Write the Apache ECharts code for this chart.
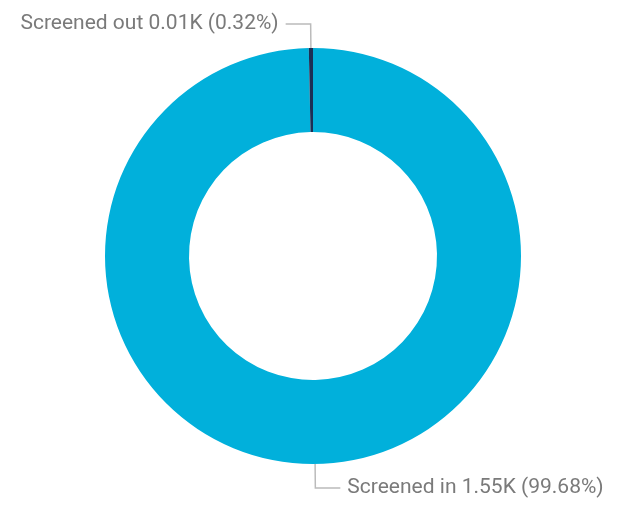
<!DOCTYPE html>
<html>
<head>
<meta charset="utf-8">
<script src="https://cdn.jsdelivr.net/npm/echarts@6/dist/echarts.min.js"></script>
<style>
  html, body { margin: 0; padding: 0; background: #fff; }
  #chart { width: 629px; height: 505px; }
</style>
</head>
<body>
<div id="chart"></div>
<script>
// Screening outcome counts
const categories = ['Screened in', 'Screened out'];
const values = [1550, 5];
const displayValues = ['1.55K', '0.01K'];
const percentLabels = ['99.68%', '0.32%'];
const colors = ['#01B0DB', '#1C2F55'];

const chart = echarts.init(document.getElementById('chart'), null, { renderer: 'canvas' });

const data = categories.map((name, i) => ({
  name: name,
  value: values[i],
  itemStyle: { color: colors[i] }
}));

chart.setOption({
  animation: false,
  series: [{
    type: 'pie',
    center: [313, 256],
    radius: [124, 208],
    startAngle: 90,
    clockwise: true,
    avoidLabelOverlap: false,
    data: data,
    itemStyle: { borderWidth: 0 },
    label: {
      show: true,
      position: 'outside',
      formatter: (p) => `${p.name} ${displayValues[p.dataIndex]} (${percentLabels[p.dataIndex]})`,
      color: '#7A7A7A',
      fontFamily: 'Roboto',
      fontSize: 21,
      distanceToLabelLine: 7
    },
    labelLine: {
      show: true,
      length: 24,
      length2: 25,
      smooth: false,
      lineStyle: { color: '#BBBBBB', width: 1.5 }
    },
    emphasis: { disabled: true }
  }]
});
</script>
</body>
</html>
